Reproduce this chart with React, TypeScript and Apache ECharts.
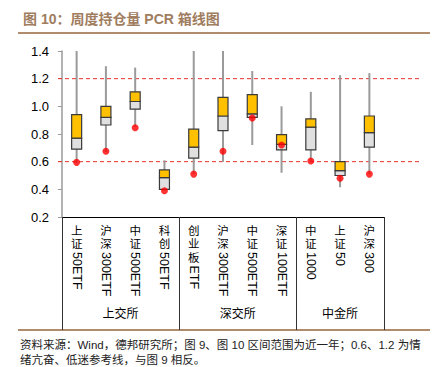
import React, { useEffect, useRef } from 'react';
import * as echarts from 'echarts';

const categories = ['上证50ETF', '沪深300ETF', '中证500ETF', '科创50ETF', '创业板ETF', '沪深300ETF', '中证500ETF', '深证100ETF', '中证1000', '上证50', '沪深300'];
const whiskerLow = [0.59, 0.67, 0.85, 0.39, 0.51, 0.60, 0.72, 0.52, 0.60, 0.415, 0.51];
const q1 = [0.69, 0.865, 0.98, 0.40, 0.625, 0.825, 0.92, 0.685, 0.685, 0.50, 0.705];
const median = [0.77, 0.92, 1.035, 0.485, 0.705, 0.93, 0.945, 0.725, 0.85, 0.535, 0.81];
const q3 = [0.94, 1.0, 1.105, 0.54, 0.835, 1.065, 1.085, 0.795, 0.91, 0.60, 0.93];
const whiskerHigh = [1.40, 1.29, 1.28, 0.61, 1.40, 1.40, 1.255, 1.0, 1.105, 1.225, 1.24];
const current = [0.595, 0.675, 0.845, 0.39, 0.51, 0.675, 0.915, 0.72, 0.605, 0.48, 0.51];
const groups = ['上交所', '深交所', '中金所'];
const groupSizes = [4, 4, 3];
const refLines = [0.6, 1.2];
const yMin = 0.2;
const yMax = 1.4;
const yStep = 0.2;

const titleText = '图 10：周度持仓量 PCR 箱线图';
const noteText = '资料来源：Wind，德邦研究所；图 9、图 10 区间范围为近一年；0.6、1.2 为情\n绪亢奋、低迷参考线，与图 9 相反。';

const CJK = '"Noto Sans CJK SC", sans-serif';
const LATIN = '"Liberation Sans", Arial, "Noto Sans CJK SC", sans-serif';

function splitLabel(s: string) {
  const m = s.match(/^[\u4e00-\u9fff]+/);
  const cjk = m ? m[0] : '';
  return { cjk, rest: s.slice(cjk.length) };
}

export default function App() {
  const ref = useRef<HTMLDivElement>(null);
  useEffect(() => {
    if (!ref.current) return;
    const chart = echarts.init(ref.current, undefined, { renderer: 'svg' });

    const sepIdx: number[] = [];
    const groupCenters: number[] = [];
    let start = 0;
    groupSizes.forEach((n) => {
      sepIdx.push(start);
      groupCenters.push(start + (n - 1) / 2);
      start += n;
    });

    const boxData = categories.map((_, i) => [i, whiskerLow[i], q1[i], median[i], q3[i], whiskerHigh[i]]);
    const dotData = categories.map((_, i) => [i, current[i]]);

    const CH = 13.5;
    const LABEL_MARGIN = 7;
    const prefixLens = Array.from(new Set(categories.map((c) => splitLabel(c).cjk.length)));

    const latinAxes = prefixLens.map((n) => ({
      type: 'category',
      gridIndex: 0,
      position: 'bottom',
      data: categories,
      axisLine: { show: false, onZero: false },
      axisTick: { show: false },
      axisLabel: {
        interval: 0,
        rotate: -90,
        margin: LABEL_MARGIN + n * CH + 1,
        fontFamily: LATIN,
        fontSize: 12.5,
        color: '#000',
        formatter: (v: string) => {
          const { cjk, rest } = splitLabel(v);
          return cjk.length === n ? rest : '';
        },
      },
    }));

    const option: any = {
      animation: false,
      title: {
        text: titleText,
        left: 18,
        top: 7,
        textStyle: { fontFamily: LATIN, fontSize: 14, fontWeight: 'bold', color: '#A07D5E' },
      },
      graphic: [
        { type: 'line', shape: { x1: 18, y1: 33, x2: 430, y2: 33 }, style: { stroke: '#B08C6C', lineWidth: 2 } },
        { type: 'line', shape: { x1: 18, y1: 330, x2: 430, y2: 330 }, style: { stroke: '#B08C6C', lineWidth: 2 } },
        {
          type: 'text',
          left: 20,
          top: 337,
          style: { text: noteText, font: '11.5px ' + LATIN, fill: '#222', lineHeight: 15 },
        },
      ],
      grid: [
        { left: 62, right: 57, top: 51, bottom: 150 },
        { left: 58, right: 19, top: 51, bottom: 150 },
      ],
      xAxis: [
        {
          type: 'category',
          gridIndex: 0,
          position: 'bottom',
          data: categories,
          boundaryGap: true,
          axisLine: { onZero: false, lineStyle: { color: '#000', width: 1 } },
          axisTick: {
            show: true,
            alignWithLabel: false,
            interval: (i: number) => sepIdx.includes(i),
            length: 113,
            lineStyle: { color: '#333', width: 1 },
          },
          axisLabel: {
            interval: 0,
            margin: LABEL_MARGIN,
            color: '#000',
            fontFamily: LATIN,
            fontSize: 11.5,
            lineHeight: CH,
            verticalAlign: 'top',
            formatter: (v: string) => splitLabel(v).cjk.split('').join('\n'),
          },
        },
        {
          type: 'value',
          gridIndex: 0,
          position: 'bottom',
          min: -0.5,
          max: categories.length - 0.5,
          interval: 0.5,
          axisLine: { show: false, onZero: false },
          axisTick: { show: false },
          splitLine: { show: false },
          axisLabel: {
            margin: 89,
            color: '#000',
            fontFamily: CJK,
            fontSize: 12,
            showMinLabel: true,
            showMaxLabel: true,
            formatter: (v: number) => {
              const k = groupCenters.findIndex((c) => Math.abs(c - v) < 1e-6);
              return k >= 0 ? groups[k] : '';
            },
          },
        },
        { type: 'value', gridIndex: 1, min: 0, max: 1, show: false },
        ...latinAxes,
      ],
      yAxis: [
        {
          type: 'value',
          gridIndex: 0,
          min: yMin,
          max: yMax,
          interval: yStep,
          axisLine: { show: true, onZero: false, lineStyle: { color: '#9a9a9a', width: 1.5 } },
          axisTick: { show: true, length: 4, lineStyle: { color: '#9a9a9a' } },
          splitLine: { show: false },
          axisLabel: {
            margin: 13,
            color: '#000',
            fontFamily: LATIN,
            fontSize: 13,
            formatter: (v: number) => v.toFixed(1),
          },
        },
        { type: 'value', gridIndex: 1, min: yMin, max: yMax, show: false },
      ],
      series: [
        ...refLines.map((v) => ({
          type: 'line',
          xAxisIndex: 2,
          yAxisIndex: 1,
          data: [[0, v], [1, v]],
          symbol: 'none',
          silent: true,
          z: 1,
          lineStyle: { color: '#E8302C', width: 1, type: [4, 3] },
        })),
        {
          type: 'custom',
          xAxisIndex: 0,
          yAxisIndex: 0,
          z: 3,
          data: boxData,
          encode: { x: 0, y: [1, 2, 3, 4, 5] },
          renderItem: (params: any, api: any) => {
            const x = api.value(0);
            const pLow = api.coord([x, api.value(1)]);
            const pQ1 = api.coord([x, api.value(2)]);
            const pMed = api.coord([x, api.value(3)]);
            const pQ3 = api.coord([x, api.value(4)]);
            const pHigh = api.coord([x, api.value(5)]);
            const w = 10;
            const cx = pMed[0];
            return {
              type: 'group',
              children: [
                {
                  type: 'line',
                  shape: { x1: cx, y1: pLow[1], x2: cx, y2: pHigh[1] },
                  style: { stroke: '#9a9a9a', lineWidth: 2 },
                },
                {
                  type: 'rect',
                  shape: { x: cx - w / 2, y: pMed[1], width: w, height: pQ1[1] - pMed[1] },
                  style: { fill: '#E0E0E0', stroke: '#3a3a3a', lineWidth: 1.2 },
                },
                {
                  type: 'rect',
                  shape: { x: cx - w / 2, y: pQ3[1], width: w, height: pMed[1] - pQ3[1] },
                  style: { fill: '#FFC000', stroke: '#3a3a3a', lineWidth: 1.2 },
                },
              ],
            };
          },
        },
        {
          type: 'scatter',
          xAxisIndex: 0,
          yAxisIndex: 0,
          z: 4,
          data: dotData,
          symbol: 'circle',
          symbolSize: 7,
          itemStyle: { color: '#FF0000' },
        },
      ],
    };

    chart.setOption(option);
    return () => chart.dispose();
  }, []);

  return (
    <div
      ref={ref}
      style={{ position: 'fixed', left: 0, top: 0, width: 441, height: 367, background: '#fff' }}
    />
  );
}
